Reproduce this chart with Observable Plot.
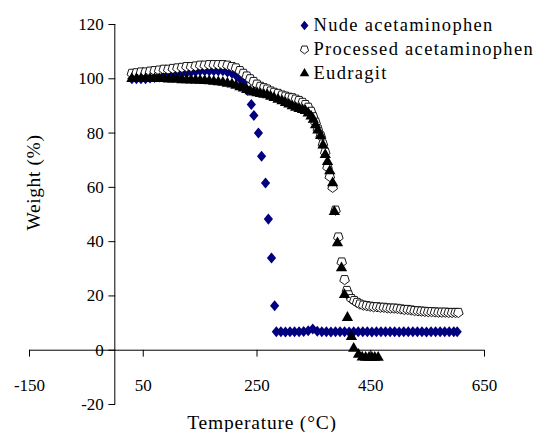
<!DOCTYPE html>
<html><head><meta charset="utf-8">
<script src="https://cdn.jsdelivr.net/npm/d3@7"></script>
<script src="https://cdn.jsdelivr.net/npm/@observablehq/plot@0.6"></script>
<style>body{margin:0;background:#fff}</style>
</head><body><div id="chart"></div>
<script>
// ---- data: [temperature °C, weight %] ----
const seriesNames = ["Nude acetaminophen", "Processed acetaminophen", "Eudragit"];

const nudeAcetaminophen = [
  [30,100],[38,100],[46,100],[54,100],[62,100.3],[70,100.5],[78,100.7],[86,101],[94,101.2],[102,101.5],
  [110,101.8],[118,102],[126,102.2],[134,102.5],[142,102.7],[150,103],[158,103],[166,103],[174,103],[182,103],
  [190,103],[198,102.5],[206,102],[214,101],[220,100],[226,98.5],[233,95.7],[240,90.5],[244.5,86.5],[252.5,80],
  [258,71.5],[265,61.6],[270,48.3],[275.5,34],[281,16.4],
  [284,6.8],[292,6.8],[300,6.7],[308,6.8],[316,6.8],[324,6.8],[332,6.9],[340,7.2],[348,7.8],[356,7],
  [364,6.8],[372,6.8],[380,6.7],[388,6.8],[396,6.8],[404,6.8],[412,6.7],[420,6.8],[428,6.8],[436,6.8],
  [444,6.8],[452,6.7],[460,6.8],[468,6.8],[476,6.8],[484,6.8],[492,6.8],[500,6.7],[508,6.8],[516,6.8],
  [524,6.8],[532,6.8],[540,6.8],[548,6.7],[556,6.8],[564,6.8],[572,6.8],[580,6.8],[588,6.8],[596,6.8],[602,6.8]
];

const processedAcetaminophen = [
  [30,102],[38,102.2],[46,102.5],[54,102.5],[62,102.8],[70,103],[78,103.2],[86,103.5],[94,103.5],[102,103.8],
  [110,104],[118,104.2],[126,104.5],[134,104.5],[142,104.7],[150,105],[158,105],[166,105.2],[174,105.2],[182,105.2],
  [190,105.2],[198,105],[206,104.5],[213,104],[220,103],[226,102],[232,101],[238,100],[244,99],[250,98],
  [256,97.2],[262,96.7],[268,96.2],[274,95.5],[280,95],[287,94.6],[294,94],[300,93.6],[306,93.2],[312,93],
  [318,92.5],[324,92],[330,91.3],[335,90.5],[340,89.5],[345,88],[349,86],[353,84],[357,81.5],[362,79],
  [366,76],[370,73],[374,67.5],[378,64],[383,60],[388,51.6],[393,41.7],[399,32.5],[404,26],[408,22],
  [411,20.4],[416,19],[421,18.3],[426,17.6],[431,17],[437,16.6],[443,16.4],[449,16.2],[455,16],[461,16],
  [467,15.8],[473,15.8],[479,15.6],[485,15.5],[491,15.5],[497,15.4],[503,15.2],[509,15],[515,15],[521,14.8],
  [527,14.6],[533,14.5],[539,14.4],[545,14.3],[551,14.2],[557,14.2],[563,14.1],[569,14],[575,14],[581,14],
  [587,13.9],[593,13.9],[599,13.9],[604,13.9]
];

const eudragit = [
  [30,100],[38,100],[46,100],[54,100],[62,100],[70,100],[78,100],[86,100],[94,99.8],[102,99.8],
  [110,99.8],[118,99.6],[126,99.6],[134,99.5],[142,99.5],[150,99.4],[158,99.3],[166,99.2],[174,99],[182,98.8],
  [190,98.6],[198,98.3],[206,98],[213,97.5],[220,97],[226,96.5],[232,96],[238,95.5],[244,95],[250,94.8],
  [256,94.5],[262,94.2],[268,94],[274,93.5],[280,93],[287,92.4],[294,91.8],[300,91.2],[306,90.6],[312,90],
  [318,89.4],[324,89],[330,88.6],[335,88.2],[340,87.3],[345,86.2],[349,85],[353,83],[357,81],[362,79],
  [366,75.5],[370,72],[374,69.4],[378,66],[383,61.6],[386,51],[391.5,39.5],[398.6,30.3],[403.8,20.4],[409,12],
  [416,5],[420,0.6],[428.5,-1.6],[435,-2.6],[441,-2.7],[447,-2.7],[452,-2.7],[457,-2.7],[463,-2.7]
];

const xDomain = [-150, 650];
const yDomain = [-20, 120];
const xTicks = [-150, 50, 250, 450, 650];
const yTicks = [120, 100, 80, 60, 40, 20, 0, -20];
const xLabel = "Temperature (°C)";
const yLabel = "Weight (%)";

// ---- styling ----
const font = "'Liberation Serif', 'Times New Roman', serif";
const pentagonDown = {
  draw(context, size) {
    const R = Math.sqrt(size / 2.3776);
    for (let k = 0; k < 5; ++k) {
      const a = Math.PI / 2 + k * 2 * Math.PI / 5;
      const px = R * Math.cos(a), py = R * Math.sin(a);
      if (k === 0) context.moveTo(px, py); else context.lineTo(px, py);
    }
    context.closePath();
  }
};
const chunkyDiamond = {
  draw(context, size) {
    const w = Math.sqrt(size / 2.5), h = w * 1.2;
    context.moveTo(0, -h); context.lineTo(w, 0); context.lineTo(0, h); context.lineTo(-w, 0); context.closePath();
  }
};
const tickShape = {draw(context, l) { context.moveTo(0, 0); context.lineTo(0, -l); }};

const styles = [
  {symbol: chunkyDiamond, r: 4.1, fill: "#000080", stroke: "none", strokeWidth: 0},
  {symbol: pentagonDown, r: 4.4, fill: "white", stroke: "black", strokeWidth: 0.9},
  {symbol: "triangle", r: 4.2, fill: "black", stroke: "none", strokeWidth: 0}
];
const seriesData = [nudeAcetaminophen, processedAcetaminophen, eudragit];

const marks = [
  Plot.ruleY([0], {x1: xDomain[0], x2: xDomain[1], stroke: "black", strokeWidth: 1}),
  Plot.ruleX([0], {y1: yDomain[0], y2: yDomain[1], stroke: "black", strokeWidth: 1}),
  Plot.vector(xTicks, {x: d => d, y: 0, length: 6, rotate: 180, anchor: "start", shape: tickShape, stroke: "black", strokeWidth: 1}),
  Plot.vector(yTicks, {x: 0, y: d => d, length: 6, rotate: -90, anchor: "start", shape: tickShape, stroke: "black", strokeWidth: 1}),
  Plot.text(yTicks, {x: 0, y: d => d, text: d => String(d), dx: -11, textAnchor: "end", fontSize: 17}),
  Plot.text(xTicks, {x: d => d, y: 0, text: d => String(d), dy: 35, fontSize: 17}),
  Plot.text([xLabel], {frameAnchor: "bottom", dx: 5, dy: 18, textAnchor: "middle", lineAnchor: "middle", fontSize: 19.5}),
  Plot.text([yLabel], {frameAnchor: "top-left", dx: 4, dy: 158, rotate: -90, textAnchor: "middle", lineAnchor: "middle", fontSize: 19.5})
];
seriesData.forEach((data, i) => {
  const s = styles[i];
  marks.push(Plot.dot(data, {x: d => d[0], y: d => d[1], symbol: s.symbol, r: s.r, fill: s.fill, stroke: s.stroke, strokeWidth: s.strokeWidth}));
});
seriesNames.forEach((name, i) => {
  const s = styles[i];
  marks.push(Plot.dot([name], {frameAnchor: "top-left", dx: 275, dy: 1 + 24 * i, symbol: s.symbol, r: s.r * 0.85, fill: s.fill, stroke: s.stroke, strokeWidth: s.strokeWidth}));
  marks.push(Plot.text([name], {frameAnchor: "top-left", dx: 284, dy: 1 + 24 * i, textAnchor: "start", lineAnchor: "middle", fontSize: 18.5}));
});

const chart = Plot.plot({
  width: 534, height: 432,
  marginLeft: 29, marginRight: 50, marginTop: 24, marginBottom: 28,
  x: {domain: xDomain, axis: null},
  y: {domain: yDomain, axis: null},
  style: {fontFamily: font, background: "white", color: "black", overflow: "visible"},
  marks
});
d3.select(chart).selectAll("text").each(function () {
  const t = this.textContent;
  if (seriesNames.includes(t)) this.setAttribute("letter-spacing", "1.3px");
  else if (t === xLabel) this.setAttribute("letter-spacing", "0.8px");
  else if (t === yLabel) this.setAttribute("letter-spacing", "0.6px");
});
document.getElementById("chart").appendChild(chart);
</script></body></html>
